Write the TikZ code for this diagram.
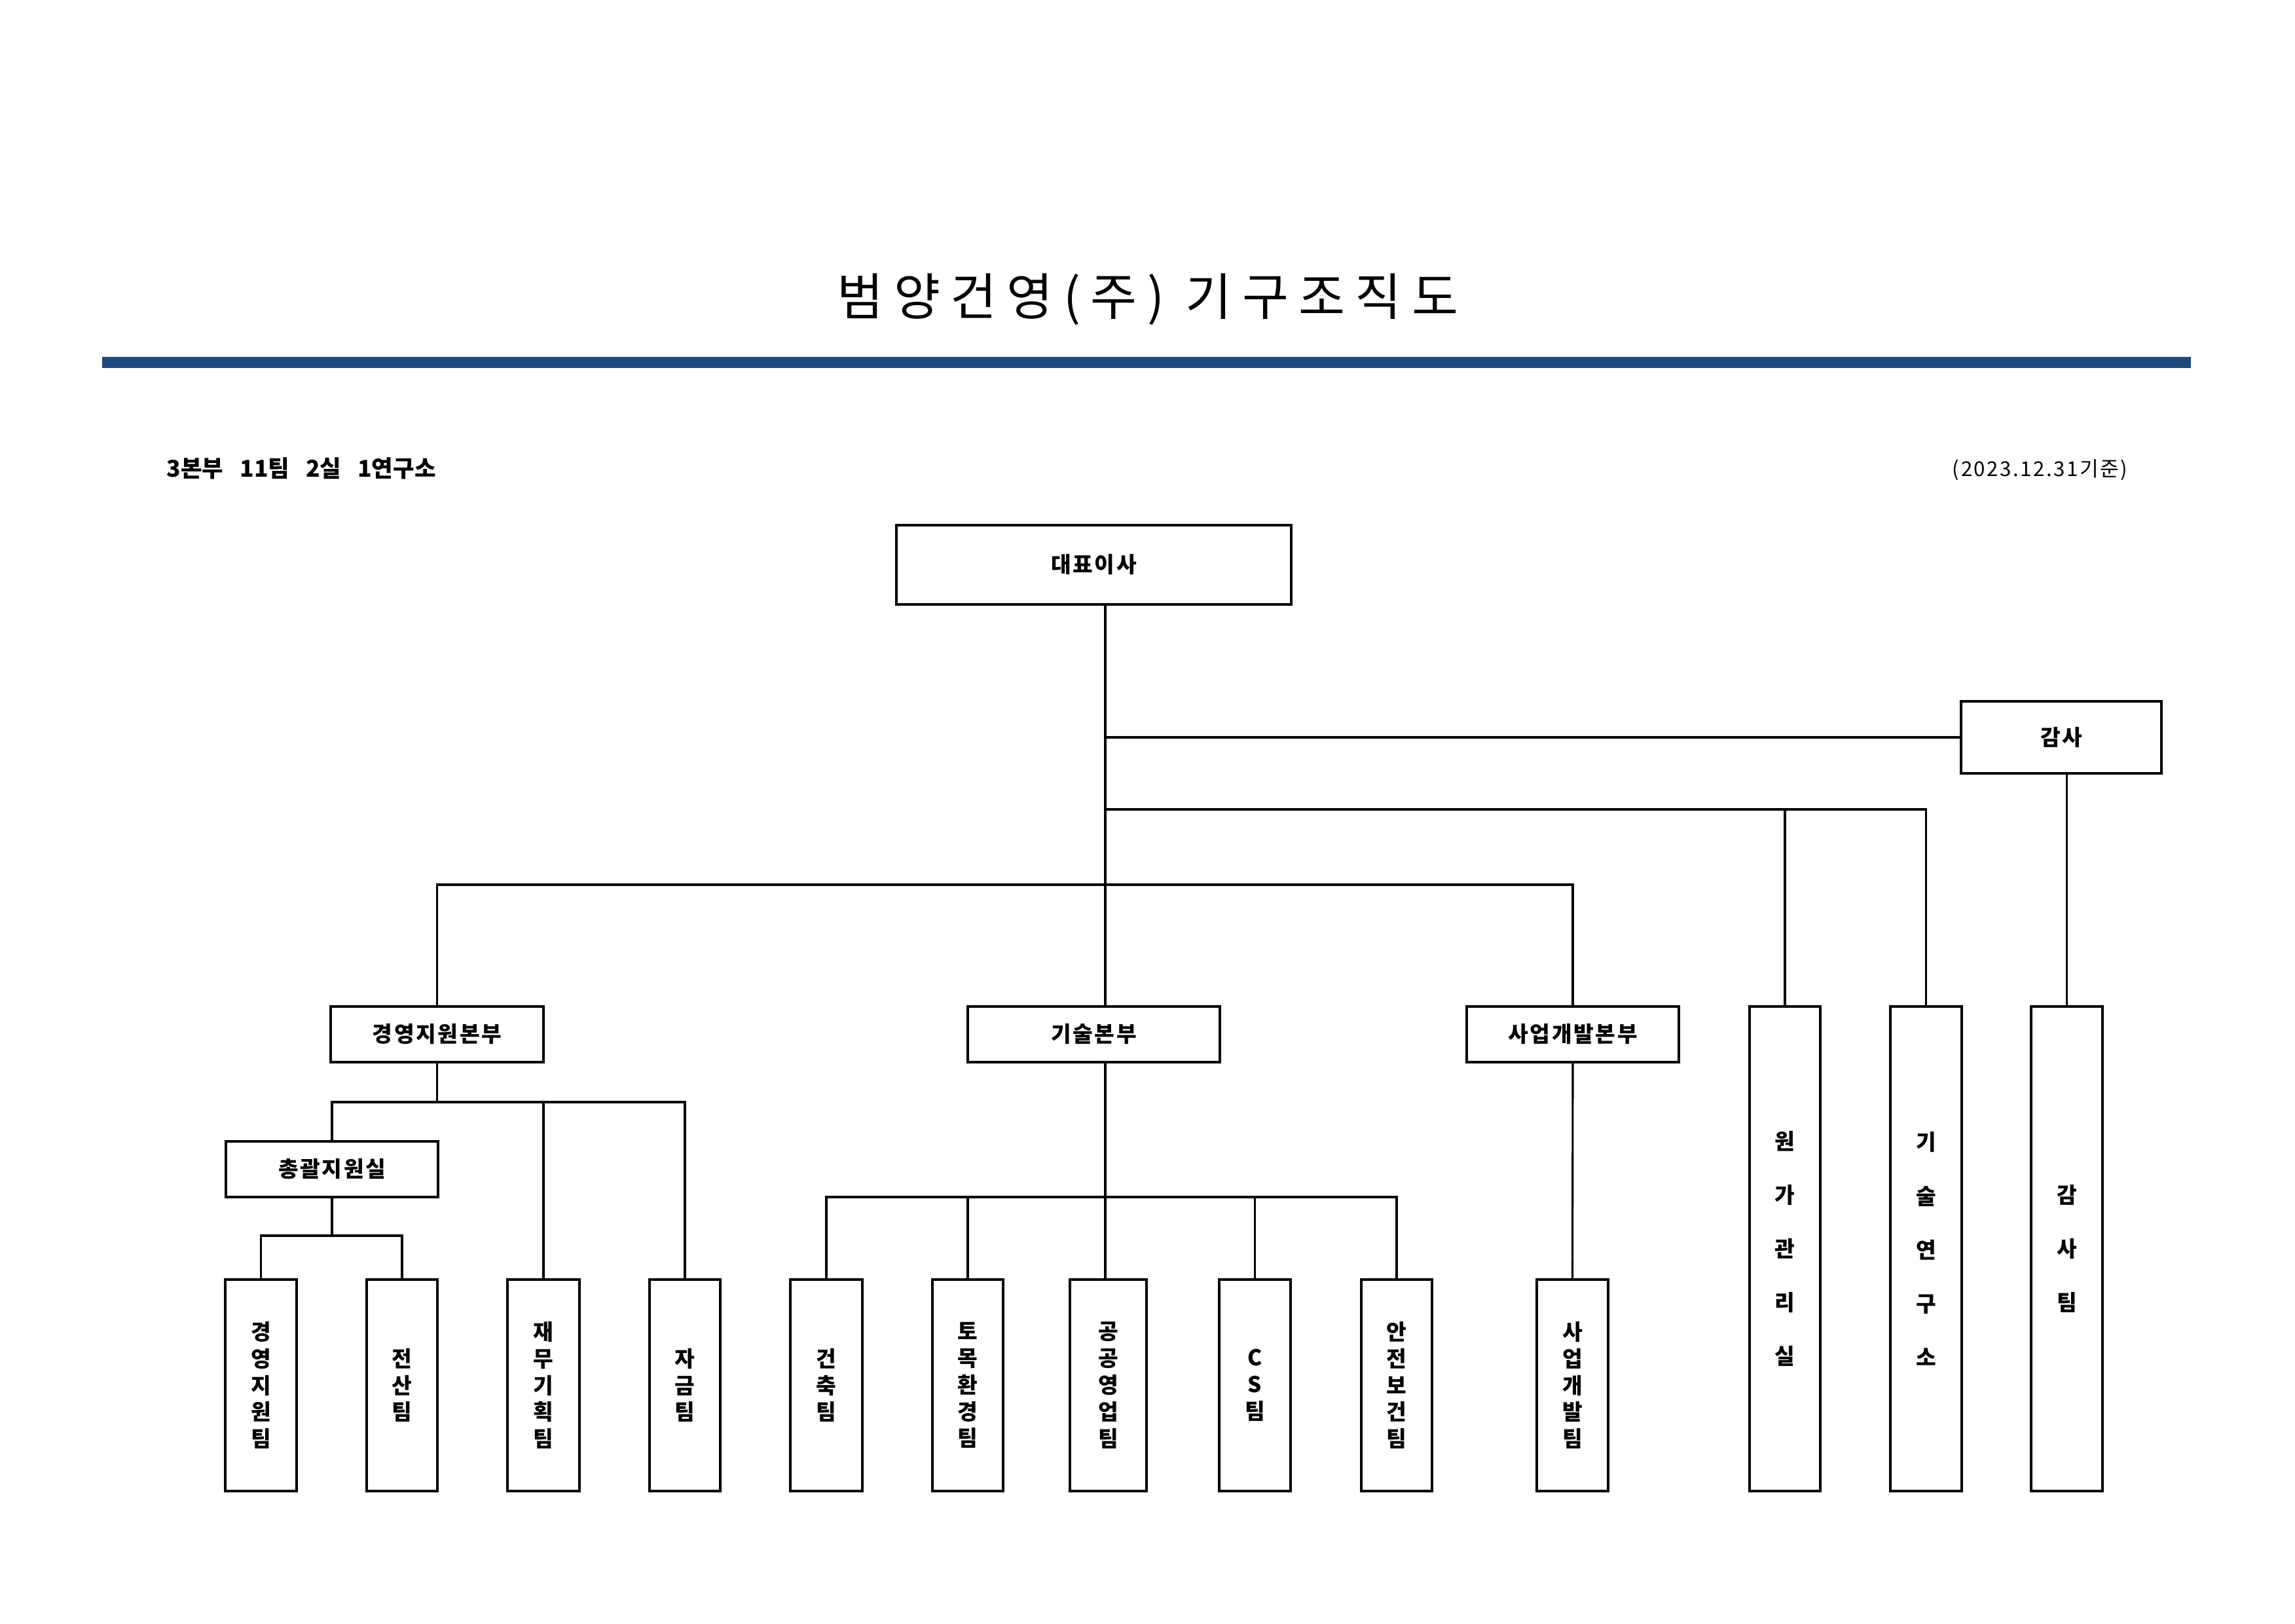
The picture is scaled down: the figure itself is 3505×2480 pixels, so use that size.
\documentclass[tikz,border=0pt]{standalone}
\usepackage{fontspec}
\setmainfont{Noto Sans CJK KR}
\newfontfamily\titlefont[LetterSpace=20]{Noto Sans CJK KR}
\newfontfamily\datefont[LetterSpace=8]{Noto Sans CJK KR}
\newfontfamily\boxfont[LetterSpace=8]{Noto Sans CJK KR}
\definecolor{rulecol}{HTML}{1F497D}
\begin{document}
\begin{tikzpicture}[x=0.24pt,y=-0.24pt,
  box/.style={draw, line width=0.85pt, inner sep=0pt, align=center,
    font=\boxfont\fontsize{8pt}{9.8pt}\selectfont\bfseries},
  tall/.style={box, font=\boxfont\fontsize{8pt}{19.7pt}\selectfont\bfseries},
  sz/.style 2 args={minimum width=#1*0.24pt, minimum height=#2*0.24pt},
  conn/.style={line width=0.75pt}]
\useasboundingbox (0,0) rectangle (3505,2480);
\fill[white] (0,0) rectangle (3505,2480);

% title and header
\node[anchor=base, inner sep=0pt, font=\titlefont\fontsize{18.5pt}{22pt}\selectfont] (title) at (1753,481) {범양건영(주) 기구조직도};
\fill[rulecol] (156,545) rectangle (3346,562);
\node[anchor=base west, inner sep=0pt, font=\fontsize{8.5pt}{10pt}\selectfont\bfseries] (summary) at (254,728) {3본부\hspace{6pt}11팀\hspace{6pt}2실\hspace{6pt}1연구소};
\node[anchor=base east, inner sep=0pt, font=\datefont\fontsize{7.5pt}{9pt}\selectfont] (date) at (3250,727) {(2023.12.31기준)};

% top level
\node[box, sz={603}{121}] (ceo) at (1670.5,862.5) {대표이사};
\node[box, sz={306}{110}] (audit) at (3148,1126) {감사};

% second level
\node[box, sz={325}{85}] (gy) at (667.5,1579.5) {경영지원본부};
\node[box, sz={385}{85}] (gs) at (1670.5,1579.5) {기술본부};
\node[box, sz={324}{85}] (sa) at (2402,1579.5) {사업개발본부};
\node[tall, sz={108}{740}] (won) at (2726,1907) {원\\가\\관\\리\\실};
\node[tall, sz={109}{740}] (lab) at (2941.5,1907) {기\\술\\연\\구\\소};
\node[tall, sz={109}{740}] (gam) at (3156.5,1907) {감\\사\\팀};

% third level
\node[box, sz={324}{85}] (chg) at (507,1785.5) {총괄지원실};

% teams
\node[box, sz={109}{323}] (t1) at (398.5,2115.5) {경\\영\\지\\원\\팀};
\node[box, sz={108}{323}] (t2) at (614,2115.5) {전\\산\\팀};
\node[box, sz={110}{323}] (t3) at (830,2115.5) {재\\무\\기\\획\\팀};
\node[box, sz={108}{323}] (t4) at (1046,2115.5) {자\\금\\팀};
\node[box, sz={110}{323}] (t5) at (1262,2115.5) {건\\축\\팀};
\node[box, sz={108}{323}] (t6) at (1478,2115.5) {토\\목\\환\\경\\팀};
\node[box, sz={117}{323}] (t7) at (1692.5,2115.5) {공\\공\\영\\업\\팀};
\node[box, sz={109}{323}] (t8) at (1916.5,2115.5) {C\\S\\팀};
\node[box, sz={108}{323}] (t9) at (2133,2115.5) {안\\전\\보\\건\\팀};
\node[box, sz={109}{323}] (t10) at (2401.5,2115.5) {사\\업\\개\\발\\팀};

% connectors
\coordinate (spine) at (1688,0);
\coordinate (busR) at (1688,1236);
\coordinate (busM) at (0,1351);
\coordinate (busL) at (0,1683);
\coordinate (busT) at (0,1828);
\coordinate (busC) at (0,1887);

\draw[conn] (ceo.south -| spine) -- (gs.north -| spine);
\draw[conn] (audit.west) -- (audit.west -| spine);
\draw[conn] (busR) -| (won.north);
\draw[conn] (busR) -| (lab.north);
\draw[conn] (gam.north) -- (gam.north |- audit.south);
\draw[conn] (gy.north) |- (sa.north |- busM) -- (sa.north);

\draw[conn] (gy.south) -- (gy.south |- busL);
\draw[conn] (chg.north) |- (t4.north |- busL) -- (t4.north);
\draw[conn] (t3.north) -- (t3.north |- busL);
\draw[conn] (chg.south) -- (chg.south |- busC);
\draw[conn] (t1.north) |- (t2.north |- busC) -- (t2.north);

\draw[conn] (gs.south -| spine) -- (t7.north -| spine);
\draw[conn] (t5.north) |- (t9.north |- busT) -- (t9.north);
\draw[conn] (t6.north) -- (t6.north |- busT);
\draw[conn] (t8.north) -- (t8.north |- busT);

\draw[conn] (sa.south) -- (t10.north);
\end{tikzpicture}
\end{document}
